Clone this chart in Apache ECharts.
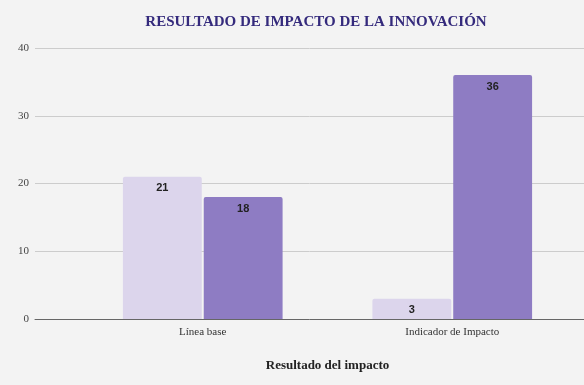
<!DOCTYPE html>
<html><head><meta charset="utf-8">
<script src="https://cdn.jsdelivr.net/npm/echarts@6/dist/echarts.min.js"></script>
<style>html,body{margin:0;padding:0;background:#f3f3f3}#c{width:584px;height:385px}</style>
</head><body><div id="c"></div>
<script>
const categories = ['Línea base', 'Indicador de Impacto'];
const serieA = [21, 3];
const serieB = [18, 36];
const yTicks = [0, 10, 20, 30, 40];

const chart = echarts.init(document.getElementById('c'));
chart.setOption({
  backgroundColor: '#f3f3f3',
  animation: false,
  title: {
    text: 'RESULTADO DE IMPACTO DE LA INNOVACIÓN',
    left: 311, top: 10, textAlign: 'center',
    textStyle: {fontFamily: 'Liberation Serif', fontWeight: 'bold', fontSize: 15, color: '#342a7c'}
  },
  grid: [
    {left: 35, right: 0, top: 48, bottom: 66},
    {left: 78, right: 7, top: 48, bottom: 66}
  ],
  xAxis: [
    {gridIndex: 0, type: 'value', min: 0, max: 1, axisLine: {show: true, onZero: false, lineStyle: {color: '#666', width: 1}},
     axisTick: {show: false}, axisLabel: {show: false}, splitLine: {show: false}},
    {gridIndex: 1, type: 'category', data: categories, axisLine: {show: false}, axisTick: {show: false},
     axisLabel: {fontFamily: 'Liberation Serif', fontSize: 11, color: '#333', margin: 8},
     name: 'Resultado del impacto', nameLocation: 'middle', nameGap: 40,
     nameTextStyle: {fontFamily: 'Liberation Serif', fontWeight: 'bold', fontSize: 13, color: '#222'}}
  ],
  yAxis: [
    {gridIndex: 0, type: 'value', min: yTicks[0], max: yTicks[yTicks.length-1], interval: 10,
     axisLine: {show: false}, axisTick: {show: false},
     axisLabel: {fontFamily: 'Liberation Serif', fontSize: 11, color: '#444', margin: 6},
     splitLine: {lineStyle: {color: '#cccccc', width: 1}}},
    {gridIndex: 1, type: 'value', min: 0, max: 40, show: false, splitLine: {show: false}}
  ],
  series: [
    {type: 'bar', xAxisIndex: 1, yAxisIndex: 1, data: serieA, barGap: '2.5%', barCategoryGap: '36%',
     itemStyle: {color: '#dcd5ec', borderRadius: [2,2,0,0]},
     label: {show: true, position: 'insideTop', distance: 6, fontFamily: 'Liberation Sans', fontWeight: 'bold', fontSize: 11, color: '#222'}},
    {type: 'bar', xAxisIndex: 1, yAxisIndex: 1, data: serieB,
     itemStyle: {color: '#8e7cc3', borderRadius: [2,2,0,0]},
     label: {show: true, position: 'insideTop', distance: 6, fontFamily: 'Liberation Sans', fontWeight: 'bold', fontSize: 11, color: '#222'}}
  ]
});
</script></body></html>
